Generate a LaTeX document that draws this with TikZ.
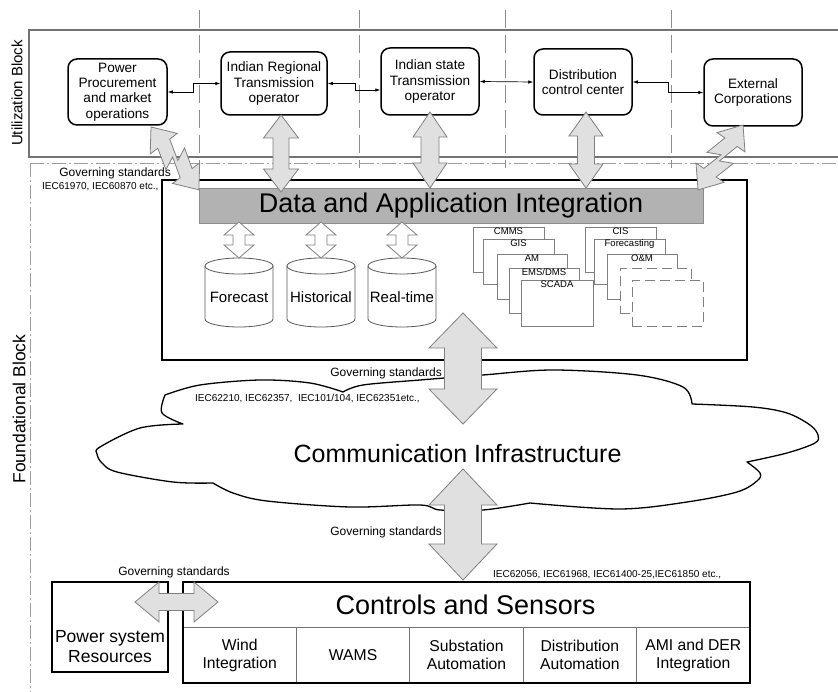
\documentclass[tikz,border=0pt]{standalone}
\usepackage{fontspec}
\setmainfont{Liberation Sans}
\usetikzlibrary{arrows.meta}
\newcommand{\myfs}[2]{\fontsize{#1}{#2}\selectfont}
% vertical fat double arrow: [style]{x}{ytop}{ybottom}{head half width}{shaft half width}{head length}
\newcommand{\fatv}[7][fat]{\draw[#1] (#2,#3) -- (#2+#5,#3+#7) -- (#2+#6,#3+#7) -- (#2+#6,#4-#7) -- (#2+#5,#4-#7) -- (#2,#4) -- (#2-#5,#4-#7) -- (#2-#6,#4-#7) -- (#2-#6,#3+#7) -- (#2-#5,#3+#7) -- cycle;}
% horizontal fat double arrow: [style]{y}{xleft}{xright}{head half height}{shaft half height}{head length}
\newcommand{\fath}[7][fat]{\draw[#1] (#3,#2) -- (#3+#7,#2-#5) -- (#3+#7,#2-#6) -- (#4-#7,#2-#6) -- (#4-#7,#2-#5) -- (#4,#2) -- (#4-#7,#2+#5) -- (#4-#7,#2+#6) -- (#3+#7,#2+#6) -- (#3+#7,#2+#5) -- cycle;}
% zig-zag double arrow starting at a tip, pointing along the given angle
\newcommand{\zigarrow}[3]{\begin{scope}[shift={(#1,#2)}, rotate=#3]
 \draw[fat] (0,0) -- (21,17) -- (21,7.5) -- (43,14) -- (37,1) -- (58,7.5) -- (58,17) -- (79,0) -- (58,-17) -- (58,-7.5) -- (37,-14) -- (43,-1) -- (21,-7.5) -- (21,-17) -- cycle;
\end{scope}}
% database cylinder: {center x}{top}{bottom}
\newcommand{\dbcyl}[3]{%
 \draw[cyl] (#1-34,#2+8) -- (#1-34,#3-8) arc[start angle=180,end angle=360,x radius=34pt,y radius=8pt] -- (#1+34,#2+8) arc[start angle=0,end angle=180,x radius=34pt,y radius=8pt] -- cycle;
 \draw[cyl] (#1-34,#2+8) arc[start angle=180,end angle=360,x radius=34pt,y radius=8pt];}
\begin{document}
\begin{tikzpicture}[x=1pt,y=-1pt,
  ubox/.style={draw, line width=1.5pt, rounded corners=9pt, fill=white, align=center, inner sep=0pt, font=\myfs{13.6}{15.4}},
  frame/.style={draw=black!55, line width=1.2pt},
  guide/.style={draw=black!45, line width=0.8pt, dash pattern=on 18pt off 7pt},
  dashdot/.style={draw=black!38, line width=0.9pt, dash pattern=on 14pt off 3pt on 2pt off 3pt},
  link/.style={draw, line width=0.7pt, <->, >={Latex[length=5pt,width=3.5pt]}},
  fat/.style={draw=black!50, fill=black!12, line width=0.8pt, line join=miter},
  fatwhite/.style={draw=black!50, fill=white, line width=0.8pt},
  win/.style={draw=black!50, fill=white, line width=0.8pt, inner sep=0pt},
  dwin/.style={win, dash pattern=on 10pt off 5pt},
  wlab/.style={anchor=north, inner sep=1pt, font=\myfs{9.5}{11}},
  cyl/.style={draw=black!65, fill=white, line width=0.8pt},
  cyllab/.style={font=\myfs{15}{17}},
  std/.style={inner sep=0pt, font=\myfs{12}{14}},
  iec/.style={inner sep=0pt, font=\myfs{10}{12}},
  big/.style={inner sep=0pt, font=\myfs{27}{30}},
  cell/.style={draw=black!55, line width=0.9pt, minimum width=113.4pt, minimum height=56pt, inner sep=0pt, align=center, font=\myfs{15.7}{18}},
  blocklab/.style={rotate=90, inner sep=0pt}
]
\useasboundingbox (0,0) rectangle (838,692);
\fill[white] (0,0) rectangle (838,692);

% ---------- block frames and guides ----------
\draw[frame] (838,30) -- (29,30) -- (29,157) -- (838,157);
\foreach \gx in {199,359,505,671} \draw[guide] (\gx,10) -- (\gx,168);
\draw[dashdot] (30,163) -- (838,163);
\draw[dashdot] (30,163) -- (30,692);
\node[blocklab, font=\myfs{15}{18}] (ublock) at (17,93) {Utilization Block};
\node[blocklab, font=\myfs{17.5}{20}] (fblock) at (19,409) {Foundational Block};

% ---------- utilization actors ----------
\node[ubox, minimum width=99pt, minimum height=66pt] (b1) at (117.5,92) {Power\\Procurement\\and market\\operations};
\node[ubox, minimum width=106pt, minimum height=63pt] (b2) at (274,83.5) {Indian Regional\\Transmission\\operator};
\node[ubox, minimum width=98pt, minimum height=67pt] (b3) at (430,81.5) {Indian state\\Transmission\\operator};
\node[ubox, minimum width=98pt, minimum height=66pt] (b4) at (583,82) {Distribution\\control center};
\node[ubox, minimum width=98pt, minimum height=67pt] (b5) at (753,92.5) {External\\Corporations};

\draw[link] (b1.east) -- (193,92) |- (b2.west);
\draw[link] (b2.east) -- (355,83.5) |- ([yshift=-8.5pt]b3.west);
\draw[link] (b3.east) -- (b4.west);
\draw[link] (b4.east) -- (668,82) |- (b5.west);

% ---------- data and application integration ----------
\node[draw, fill=white, line width=2.5pt, minimum width=585pt, minimum height=180pt, inner sep=0pt] (dai) at (454.5,270) {};
\node[draw=black!45, fill=black!30, line width=0.8pt, minimum width=504pt, minimum height=35pt, inner sep=0pt] (bar) at (451,205.5) {};
\node[big] (bartext) at (451,205.5) {Data and Application Integration};

\dbcyl{239}{258}{327}
\dbcyl{321}{258}{327}
\dbcyl{402}{258}{327}
\node[cyllab] (fc) at (239,297) {Forecast};
\node[cyllab] (hi) at (321,297) {Historical};
\node[cyllab] (rt) at (402,297) {Real-time};
\fatv[fatwhite]{239}{222}{258}{15}{6}{13}
\fatv[fatwhite]{321}{222}{258}{15}{6}{13}
\fatv[fatwhite]{402}{222}{258}{15}{6}{13}

% application windows, back to front
\node[win, minimum width=71pt, minimum height=45pt] (cmms) at (508.5,249.5) {};
\node[wlab] at (cmms.north) {CMMS};
\node[win, minimum width=71pt, minimum height=45pt] (gis) at (518.5,261.5) {};
\node[wlab] at (gis.north) {GIS};
\node[win, minimum width=70pt, minimum height=45pt] (am) at (532,276.5) {};
\node[wlab] at (am.north) {AM};
\node[win, minimum width=70pt, minimum height=45pt] (ems) at (544,290.5) {};
\node[wlab] at (ems.north) {EMS/DMS};
\node[win, minimum width=72pt, minimum height=46pt] (scada) at (557,303) {};
\node[wlab] at (scada.north) {SCADA};

\node[win, minimum width=71pt, minimum height=45pt] (cis) at (620.5,249.5) {};
\node[wlab] at (cis.north) {CIS};
\node[win, minimum width=71pt, minimum height=45pt] (fcst) at (629.5,261.5) {};
\node[wlab] at (fcst.north) {Forecasting};
\node[win, minimum width=70pt, minimum height=45pt] (om) at (642,276.5) {};
\node[wlab] at (om.north) {O\&M};
\node[dwin, minimum width=71pt, minimum height=45pt] (dw1) at (655.5,290.5) {};
\node[dwin, minimum width=71pt, minimum height=46pt] (dw2) at (667.5,303) {};

% ---------- communication infrastructure ----------
\draw[draw=black, fill=white, line width=1.3pt, line join=round]
  plot[smooth, tension=0.55] coordinates {(165,395) (200,385) (260,380) (310,383) (343,392)}
  -- plot[smooth, tension=0.55] coordinates {(343,392) (363,385) (420,380) (483,375) (553,370) (637,375) (683,387) (692,404)}
  -- plot[smooth, tension=0.55] coordinates {(692,404) (753,407) (787,413) (810,425) (818,435) (815,443) (787,453) (747,462)}
  -- plot[smooth, tension=0.55] coordinates {(747,462) (760,473) (757,481) (737,492) (687,502) (620,509) (530,503)}
  -- plot[smooth, tension=0.55] coordinates {(530,503) (483,510) (440,510) (420,505) (350,507) (267,501) (233,493) (213,483)}
  -- plot[smooth, tension=0.55] coordinates {(213,483) (173,482) (117,472) (102,463) (97,454) (100,447) (140,428) (183,424)}
  -- plot[smooth, tension=0.55] coordinates {(183,424) (162,413) (165,395)}
  -- cycle;
\node[inner sep=0pt, font=\myfs{25}{28}] (comm) at (457.5,454) {Communication Infrastructure};

% ---------- controls and sensors ----------
\node[draw, line width=1.6pt, minimum width=116pt, minimum height=90pt, inner sep=0pt] (psr) at (110,627) {};
\node[inner sep=0pt, align=center, font=\myfs{17.5}{20}] (psrtext) at (110,647) {Power system\\Resources};

\node[cell] (c1) at (239.7,655) {Wind\\Integration};
\node[cell] (c2) at (353.1,655) {WAMS};
\node[cell] (c3) at (466.5,655) {Substation\\Automation};
\node[cell] (c4) at (579.9,655) {Distribution\\Automation};
\node[cell] (c5) at (693.3,655) {AMI and DER\\Integration};
\node[draw, line width=1.6pt, minimum width=567pt, minimum height=101pt, inner sep=0pt] (ctrl) at (466.5,632.5) {};
\node[big] (ctrltext) at (465.5,605) {Controls and Sensors};

% ---------- governing standards ----------
\node[std, anchor=east] (gs1) at (171,173) {Governing standards};
\node[iec, anchor=west] (iec1) at (42,187) {IEC61970, IEC60870 etc.,};
\node[std, anchor=east] (gs2) at (442,373) {Governing standards};
\node[iec, anchor=west] (iec2) at (195,399) {IEC62210, IEC62357,\ \ IEC101/104, IEC62351etc.,};
\node[std, anchor=east] (gs3) at (442,532) {Governing standards};
\node[iec, anchor=west] (iec3) at (493,575) {IEC62056, IEC61968, IEC61400-25,IEC61850 etc.,};
\node[std] (gs4) at (174,572) {Governing standards};

% ---------- fat interface arrows ----------
\fatv{281}{115}{192}{17.5}{8}{23}
\fatv{430}{112}{188}{17}{9}{25}
\fatv{586}{112}{188}{17}{8.5}{24}
\zigarrow{151}{127}{-52.7}
\zigarrow{743}{125}{-124.7}
\fatv{463}{313}{424}{34}{18.5}{35}
\fatv{463}{469}{580}{34}{18.5}{36}
\fath{602}{135}{218}{20}{8.5}{24}
\end{tikzpicture}
\end{document}
